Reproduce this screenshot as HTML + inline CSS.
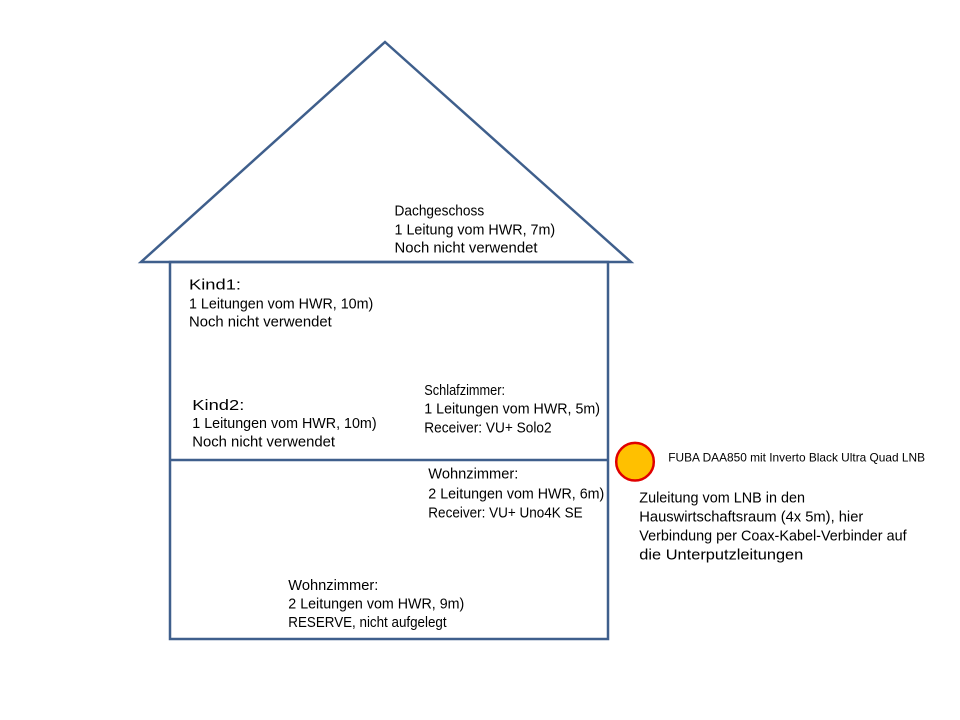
<!DOCTYPE html>
<html>
<head>
<meta charset="utf-8">
<style>
html,body{margin:0;padding:0;background:#fff;}
svg{display:block;}
text{font-family:"Liberation Sans",sans-serif;fill:#000;}
</style>
</head>
<body>
<svg width="960" height="720" viewBox="0 0 960 720" xmlns="http://www.w3.org/2000/svg">
<rect width="960" height="720" fill="#fff"/>
<g fill="none" stroke="#3f5f8c" stroke-width="2.5" stroke-linejoin="miter">
  <polygon points="385,42 141,262 631,262"/>
  <rect x="170" y="262" width="438" height="377"/>
  <line x1="170" y1="460" x2="608" y2="460"/>
</g>
<circle cx="635" cy="461.7" r="18.8" fill="#ffc000" stroke="#e00000" stroke-width="2.5"/>

<g font-size="14.5">
  <text x="394.5" y="215.7" textLength="89.7" lengthAdjust="spacingAndGlyphs">Dachgeschoss</text>
  <text x="394.5" y="234.3" textLength="160.7" lengthAdjust="spacingAndGlyphs">1 Leitung vom HWR, 7m)</text>
  <text x="394.5" y="252.7" textLength="143" lengthAdjust="spacingAndGlyphs">Noch nicht verwendet</text>

  <text x="189" y="289.5" textLength="52" lengthAdjust="spacingAndGlyphs">Kind1:</text>
  <text x="189" y="308.3" textLength="184.3" lengthAdjust="spacingAndGlyphs">1 Leitungen vom HWR, 10m)</text>
  <text x="189" y="326.7" textLength="142.7" lengthAdjust="spacingAndGlyphs">Noch nicht verwendet</text>

  <text x="192.3" y="410" textLength="52" lengthAdjust="spacingAndGlyphs">Kind2:</text>
  <text x="192.3" y="428" textLength="184.3" lengthAdjust="spacingAndGlyphs">1 Leitungen vom HWR, 10m)</text>
  <text x="192.3" y="446.5" textLength="142.7" lengthAdjust="spacingAndGlyphs">Noch nicht verwendet</text>

  <text x="424.3" y="395" textLength="80.7" lengthAdjust="spacingAndGlyphs">Schlafzimmer:</text>
  <text x="424.3" y="413.5" textLength="175.7" lengthAdjust="spacingAndGlyphs">1 Leitungen vom HWR, 5m)</text>
  <text x="424.3" y="432.5" textLength="127.3" lengthAdjust="spacingAndGlyphs">Receiver: VU+ Solo2</text>

  <text x="428.3" y="478.3" textLength="90" lengthAdjust="spacingAndGlyphs">Wohnzimmer:</text>
  <text x="428.3" y="498.3" textLength="176" lengthAdjust="spacingAndGlyphs">2 Leitungen vom HWR, 6m)</text>
  <text x="428.3" y="517.7" textLength="154.3" lengthAdjust="spacingAndGlyphs">Receiver: VU+ Uno4K SE</text>

  <text x="288.3" y="590" textLength="90" lengthAdjust="spacingAndGlyphs">Wohnzimmer:</text>
  <text x="288.3" y="608.5" textLength="176" lengthAdjust="spacingAndGlyphs">2 Leitungen vom HWR, 9m)</text>
  <text x="288.3" y="627" textLength="158.3" lengthAdjust="spacingAndGlyphs">RESERVE, nicht aufgelegt</text>
</g>

<text x="668.3" y="461.7" font-size="12" textLength="256.7" lengthAdjust="spacingAndGlyphs">FUBA DAA850 mit Inverto Black Ultra Quad LNB</text>

<g font-size="15">
  <text x="639.3" y="502.7" textLength="165.7" lengthAdjust="spacingAndGlyphs">Zuleitung vom LNB in den</text>
  <text x="639.3" y="521.7" textLength="224" lengthAdjust="spacingAndGlyphs">Hauswirtschaftsraum (4x 5m), hier</text>
  <text x="639.3" y="540.7" textLength="267.3" lengthAdjust="spacingAndGlyphs">Verbindung per Coax-Kabel-Verbinder auf</text>
  <text x="639.3" y="559.5" textLength="164" lengthAdjust="spacingAndGlyphs">die Unterputzleitungen</text>
</g>
</svg>
</body>
</html>
